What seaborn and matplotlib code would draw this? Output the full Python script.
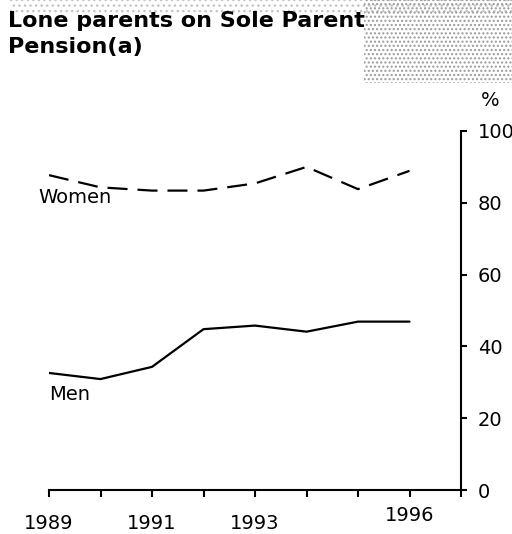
import pandas as pd
import matplotlib.pyplot as plt
import seaborn as sns
from matplotlib.patches import Rectangle

# Data
years = [1989, 1990, 1991, 1992, 1993, 1994, 1995, 1996]
women = [87.7, 84.3, 83.4, 83.4, 85.4, 90.0, 83.8, 88.9]
men = [32.6, 30.9, 34.3, 44.8, 45.8, 44.1, 46.9, 46.9]
year_labels = {1989: "1989", 1991: "1991", 1993: "1993", 1996: "1996"}
y_ticks = [0, 20, 40, 60, 80, 100]

df = pd.DataFrame({
    "year": years * 2,
    "pct": women + men,
    "sex": ["Women"] * len(years) + ["Men"] * len(years),
})

sns.set_style("ticks")
plt.rcParams["font.family"] = ["DejaVu Sans"]
plt.rcParams["text.color"] = "black"
plt.rcParams["xtick.color"] = "black"
plt.rcParams["ytick.color"] = "black"

fig = plt.figure(figsize=(5.12, 5.34), dpi=100)
ax = fig.add_axes([49 / 512, (534 - 490) / 534, (461 - 49) / 512, (490 - 131) / 534])

sns.lineplot(data=df, x="year", y="pct", style="sex", style_order=["Women", "Men"],
             dashes={"Women": (9, 4.5), "Men": ""}, color="black", linewidth=1.6,
             legend=False, ax=ax)

ax.set_xlim(1989, 1997)
ax.set_ylim(0, 100)
ax.set_xticks(range(1989, 1998))
ax.set_xticklabels([year_labels.get(y, "") for y in range(1989, 1998)], fontsize=14)
ax.set_yticks(y_ticks)
ax.set_yticklabels([str(v) for v in y_ticks], fontsize=14)
ax.yaxis.tick_right()
ax.set_xlabel("")
ax.set_ylabel("")
ax.spines["left"].set_visible(False)
ax.spines["top"].set_visible(False)
for s in ["bottom", "right"]:
    ax.spines[s].set_linewidth(1.5)
    ax.spines[s].set_color("black")
ax.tick_params(axis="x", direction="out", length=5, width=1.5, pad=12)
ax.tick_params(axis="y", direction="out", length=4, width=1.5, pad=8)
# 1996 label sits a little higher in the reference
for lbl in ax.get_xticklabels():
    if lbl.get_text() == "1996":
        lbl.set_y(0.02)

ax.text(1988.8, 81.5, "Women", fontsize=14, ha="left", va="center")
ax.text(1989.0, 26.5, "Men", fontsize=14, ha="left", va="center")
fig.text(490 / 512, 1 - 100 / 534, "%", fontsize=14, ha="center", va="center")

# halftone-like texture behind the title
fig.patches.append(Rectangle((0.02, 0.975), 0.98, 0.025, transform=fig.transFigure,
                             fill=False, hatch="...", edgecolor="#c4c4c4", linewidth=0))
fig.patches.append(Rectangle((0.71, 0.845), 0.29, 0.155, transform=fig.transFigure,
                             fill=False, hatch="....", edgecolor="#9a9a9a", linewidth=0))

fig.text(8 / 512, 1 - 11 / 534, "Lone parents on Sole Parent\nPension(a)", fontsize=16,
         fontweight="bold", ha="left", va="top", linespacing=1.35)

fig.savefig("out.png", dpi=100)
